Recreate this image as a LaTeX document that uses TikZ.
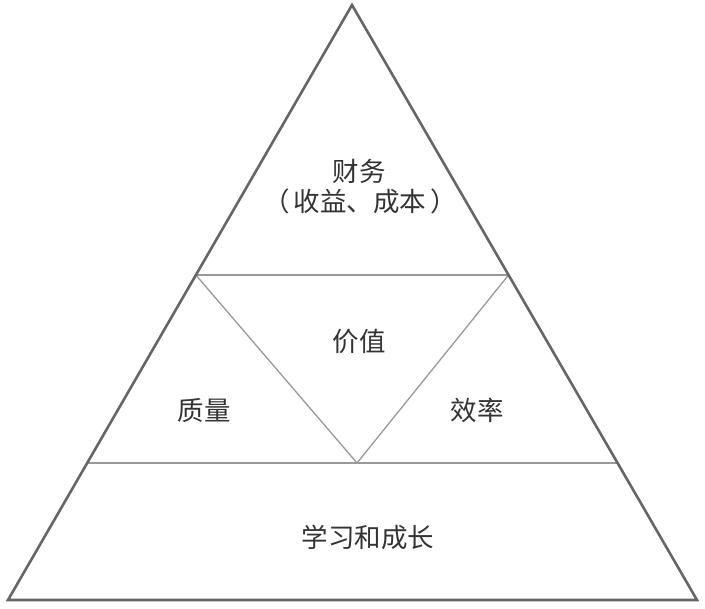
\documentclass[tikz,border=0pt]{standalone}
\usepackage{fontspec}
\usepackage{xcolor}
\usepackage{tikz}
\usetikzlibrary{positioning,calc}
\newfontfamily\cjk{Noto Sans CJK SC}
\newcommand{\lbl}{\cjk\fontsize{26.5}{30}\selectfont}

\begin{document}
\begin{tikzpicture}[x=1pt, y=-1pt,
    outer/.style={line width=2.6pt, black!60, line join=miter},
    inner/.style={line width=1.3pt, black!40},
    word/.style={text=black!80, font=\lbl, inner sep=0pt, align=center}]
    % Frame
    \useasboundingbox (0,0) rectangle (705,609);

    % Corners
    \coordinate (top) at (352,5);
    \coordinate (bl) at (8,600);
    \coordinate (br) at (697,600);
    \coordinate (ml) at ($(top)!0.4538!(bl)$);
    \coordinate (mr) at ($(top)!0.4538!(br)$);
    \coordinate (ll) at ($(top)!0.7697!(bl)$);
    \coordinate (lr) at ($(top)!0.7697!(br)$);
    \coordinate (tip) at (357,463);

    % Dividers
    \draw[inner] (ml) -- (mr);
    \draw[inner] (ll) -- (lr);
    \draw[inner] (ml) -- (tip) -- (mr);

    % Pyramid
    \draw[outer] (top) -- (bl) -- (br) -- cycle;

    % Labels
    \node[word] (finance) at (359,171) {财务};
    \node[word] (cost) at (360,201) {（\hspace{4pt}收益、成本\hspace{4pt}）};
    \node[word] (value) at (359,342) {价值};
    \node[word] (quality) at (204,410) {质量};
    \node[word] (speed) at (477,410) {效率};
    \node[word] (growth) at (368,537) {学习和成长};
\end{tikzpicture}
\end{document}
